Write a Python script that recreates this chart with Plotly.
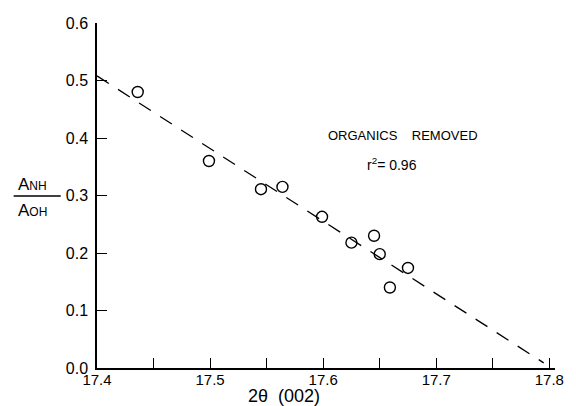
import plotly.graph_objects as go

# data
two_theta = [17.436, 17.499, 17.545, 17.564, 17.599, 17.625, 17.645, 17.650, 17.659, 17.675]
ratio = [0.480, 0.360, 0.311, 0.315, 0.263, 0.218, 0.230, 0.198, 0.140, 0.174]
fit_x = [17.400, 17.795]
fit_y = [0.508, 0.009]
x_ticks = [17.4, 17.5, 17.6, 17.7, 17.8]
y_ticks = [0.0, 0.1, 0.2, 0.3, 0.4, 0.5, 0.6]

FONT = "Liberation Sans"
PW, PH = 467, 345  # plot area size in px


def px(x):
    return (x - 97) / PW


def py(y):
    return (368 - y) / PH


fig = go.Figure()
fig.add_trace(go.Scatter(x=fit_x, y=fit_y, mode="lines",
                         line=dict(color="black", width=1.3, dash="14px,11px"),
                         showlegend=False, hoverinfo="skip"))
fig.add_trace(go.Scatter(x=two_theta, y=ratio, mode="markers",
                         marker=dict(symbol="circle-open", size=11, color="black",
                                     line=dict(width=1.4, color="black")),
                         showlegend=False))

fig.update_layout(
    width=576, height=406,
    margin=dict(l=97, r=12, t=23, b=38),
    paper_bgcolor="white", plot_bgcolor="white",
    font=dict(family=FONT, size=15, color="black"),
    xaxis=dict(range=[17.4, 17.805], tickvals=x_ticks, ticktext=[f"{v:.1f}" for v in x_ticks],
               ticks="inside", ticklen=10, tickwidth=1.2, tickcolor="black",
               minor=dict(dtick=0.05, tick0=17.4, ticks="inside", ticklen=10,
                          tickwidth=1.2, tickcolor="black", showgrid=False),
               showline=True, linecolor="black", linewidth=1.5,
               showgrid=False, zeroline=False, ticklabelstandoff=-3,
               tickfont=dict(size=15)),
    yaxis=dict(range=[0, 0.6], tickvals=y_ticks, ticktext=[f"{v:.1f}" for v in y_ticks],
               ticks="inside", ticklen=10, tickwidth=1.2, tickcolor="black",
               showline=True, linecolor="black", linewidth=1.5,
               showgrid=False, zeroline=False, tickfont=dict(size=16),
               ticklabelstandoff=4),
)

fig.add_annotation(x=px(288), y=py(396), xref="paper", yref="paper", yanchor="middle",
                   text="2θ  (002)", showarrow=False, font=dict(size=18))
fig.add_annotation(x=px(331), y=py(126), xref="paper", yref="paper", xanchor="left",
                   text="ORGANICS    REMOVED", showarrow=False, font=dict(size=13))
fig.add_annotation(x=px(370), y=py(164), xref="paper", yref="paper", xanchor="left",
                   text="r<sup>2</sup>= 0.96", showarrow=False, font=dict(size=14))
fig.add_annotation(x=px(14), y=py(185), xref="paper", yref="paper", xanchor="left",
                   text="A<span style='font-size:12px'>NH</span>", showarrow=False,
                   font=dict(size=17))
fig.add_annotation(x=px(14), y=py(210), xref="paper", yref="paper", xanchor="left",
                   text="A<span style='font-size:12px'>OH</span>", showarrow=False,
                   font=dict(size=17))
fig.add_shape(type="line", xref="paper", yref="paper",
              x0=px(12), x1=px(60), y0=py(196), y1=py(196),
              line=dict(color="black", width=1.3))

fig.write_html("out.html")
